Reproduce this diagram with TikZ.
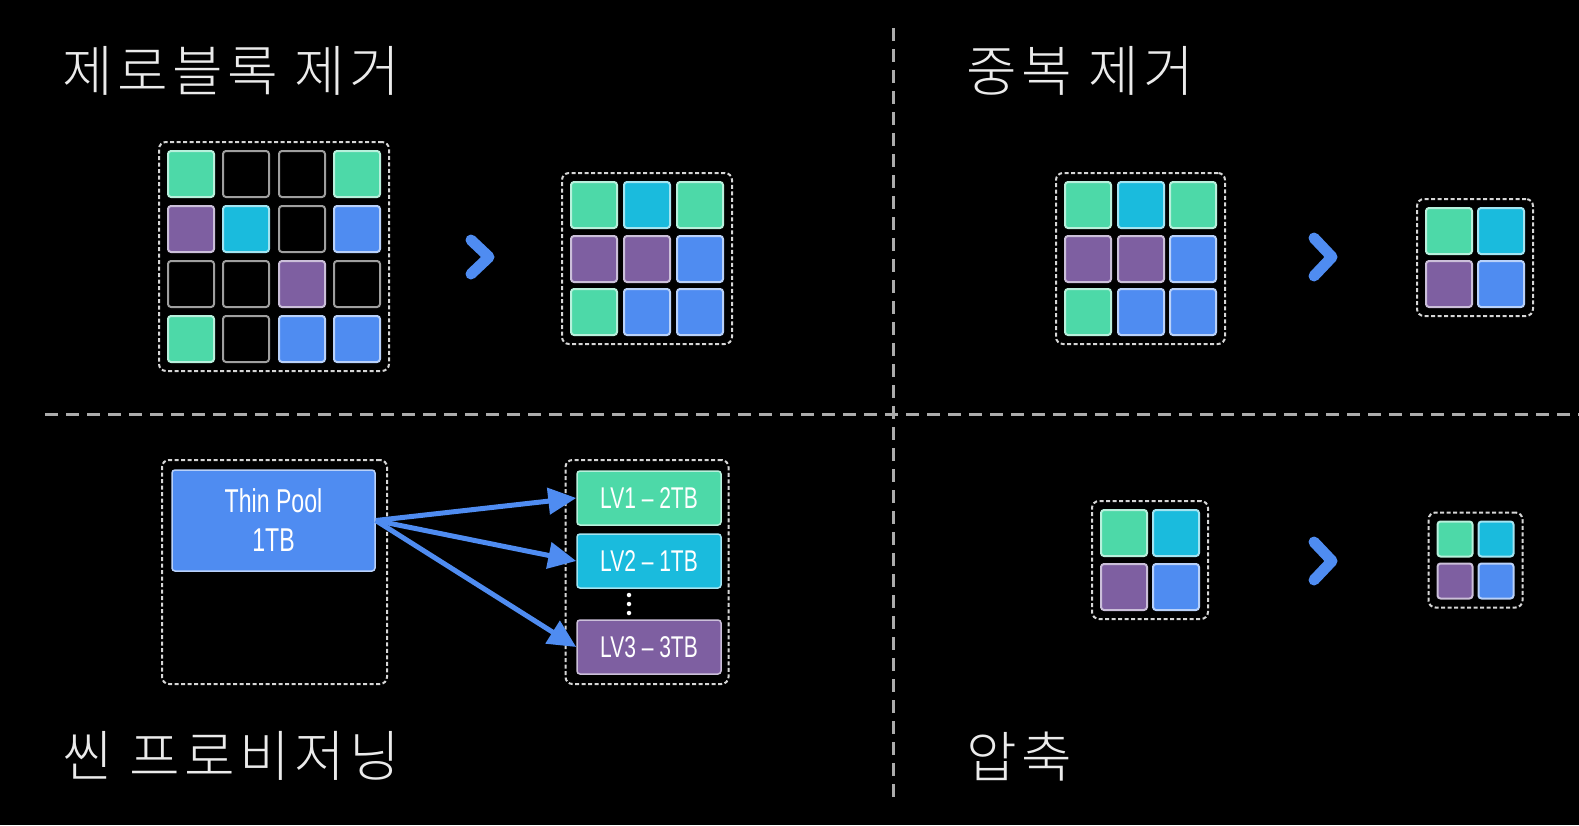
\documentclass[tikz,border=0pt]{standalone}
\usepackage{fontspec}
\usepackage{tikz}
\usetikzlibrary{fit,arrows.meta}
\IfFontExistsTF{Noto Sans CJK KR Light}
	{\newfontfamily\krfont[LetterSpace=8]{Noto Sans CJK KR Light}}
	{\newfontfamily\krfont[LetterSpace=8]{Noto Sans CJK KR}}
\newfontfamily\condfont[FakeStretch=0.7]{Liberation Sans}
\definecolor{mint}{HTML}{4DD9A8}
\definecolor{sky}{HTML}{1ABBDD}
\definecolor{grape}{HTML}{7E5FA1}
\definecolor{azure}{HTML}{4F8CF1}
\definecolor{rim}{HTML}{D6D6D6}
\tikzstyle{block} = [rectangle, rounded corners=3pt, minimum size=46pt, inner sep=0pt, line width=2pt]
\tikzstyle{gb} = [block, fill=mint, draw=mint!40!white]
\tikzstyle{cb} = [block, fill=sky, draw=sky!40!white]
\tikzstyle{pb} = [block, fill=grape, draw=grape!40!white]
\tikzstyle{bb} = [block, fill=azure, draw=azure!40!white]
\tikzstyle{eb} = [block, fill=black, draw=gray!75]
\tikzstyle{tiny} = [minimum size=35pt]
\tikzstyle{group} = [draw=rim, line width=2pt, dash pattern=on 4pt off 2.5pt, rounded corners=7pt, inner sep=8pt]
\tikzstyle{divider} = [draw=gray!65!white, line width=3pt, dash pattern=on 13pt off 8pt]
\tikzstyle{chevron} = [draw=azure, line width=11pt, line cap=round, line join=round]
\tikzstyle{title} = [anchor=base west, inner sep=0pt, text=white!92!black, font=\krfont\fontsize{55}{60}\selectfont]
\tikzstyle{volume} = [rectangle, rounded corners=3pt, minimum width=144pt, minimum height=54pt, line width=1.5pt, text=white, font=\condfont\fontsize{30}{32}\selectfont]
\tikzstyle{link} = [draw=azure, line width=5pt, -{Triangle[length=28pt, width=26pt]}]
\tikzstyle{dot} = [circle, fill=white, minimum size=4.5pt, inner sep=0pt]

\begin{document}
\begin{tikzpicture}[x=1pt, y=-1pt]
	\fill[black] (0,0) rectangle (1579,825);
	\useasboundingbox (0,0) rectangle (1579,825);

	\coordinate (vtop) at (893,28);
	\coordinate (vbot) at (893,802);
	\coordinate (hleft) at (45,414);
	\coordinate (hright) at (1579,414);
	\draw[divider] (vtop) -- (vbot);
	\draw[divider] (hleft) -- (hright);

	\node[title] (t1) at (62,91) {제로블록 제거};
	\node[title] (t2) at (966,91) {중복 제거};
	\node[title] (t3) at (62,776) {씬 프로비저닝};
	\node[title] (t4) at (966,777) {압축};

	\node[gb] (z11) at (191,174) {};
	\node[eb] (z12) at (246,174) {};
	\node[eb] (z13) at (302,174) {};
	\node[gb] (z14) at (357,174) {};
	\node[pb] (z21) at (191,229) {};
	\node[cb] (z22) at (246,229) {};
	\node[eb] (z23) at (302,229) {};
	\node[bb] (z24) at (357,229) {};
	\node[eb] (z31) at (191,284) {};
	\node[eb] (z32) at (246,284) {};
	\node[pb] (z33) at (302,284) {};
	\node[eb] (z34) at (357,284) {};
	\node[gb] (z41) at (191,339) {};
	\node[eb] (z42) at (246,339) {};
	\node[bb] (z43) at (302,339) {};
	\node[bb] (z44) at (357,339) {};
	\node[group, fit=(z11)(z44)] (zin) {};
	\draw[chevron] (471,240) -- (489,257) -- (471,274);

	\node[gb] (r11) at (594,205) {};
	\node[cb] (r12) at (647,205) {};
	\node[gb] (r13) at (700,205) {};
	\node[pb] (r21) at (594,259) {};
	\node[pb] (r22) at (647,259) {};
	\node[bb] (r23) at (700,259) {};
	\node[gb] (r31) at (594,312) {};
	\node[bb] (r32) at (647,312) {};
	\node[bb] (r33) at (700,312) {};
	\node[group, fit=(r11)(r33)] (zout) {};

	\node[gb] (d11) at (1088,205) {};
	\node[cb] (d12) at (1141,205) {};
	\node[gb] (d13) at (1193,205) {};
	\node[pb] (d21) at (1088,259) {};
	\node[pb] (d22) at (1141,259) {};
	\node[bb] (d23) at (1193,259) {};
	\node[gb] (d31) at (1088,312) {};
	\node[bb] (d32) at (1141,312) {};
	\node[bb] (d33) at (1193,312) {};
	\node[group, fit=(d11)(d33)] (din) {};
	\draw[chevron] (1314,238) -- (1332,257) -- (1314,276);

	\node[gb] (e11) at (1449,231) {};
	\node[cb] (e12) at (1501,231) {};
	\node[pb] (e21) at (1449,284) {};
	\node[bb] (e22) at (1501,284) {};
	\node[group, fit=(e11)(e22)] (dout) {};

	\node[gb] (c11) at (1124,533) {};
	\node[cb] (c12) at (1176,533) {};
	\node[pb] (c21) at (1124,587) {};
	\node[bb] (c22) at (1176,587) {};
	\node[group, fit=(c11)(c22)] (cin) {};
	\draw[chevron] (1314,542) -- (1332,561) -- (1314,580);

	\node[gb, tiny] (s11) at (1455,539) {};
	\node[cb, tiny] (s12) at (1496,539) {};
	\node[pb, tiny] (s21) at (1455,581) {};
	\node[bb, tiny] (s22) at (1496,581) {};
	\node[group, fit=(s11)(s22)] (cout) {};

	\node[volume, fill=azure, draw=azure!40!white, minimum width=203pt, minimum height=101pt, align=center, font=\condfont\fontsize{33}{39}\selectfont] (pool) at (273.5,520.5) {Thin Pool\\1TB};
	\node[group, fit=(pool), inner sep=0pt, minimum width=225pt, minimum height=224pt, anchor=north west] (poolbox) at (161,459) {};

	\node[volume, fill=mint, draw=mint!40!white] (lv1) at (649,498) {LV1 – 2TB};
	\node[volume, fill=sky, draw=sky!40!white] (lv2) at (649,561) {LV2 – 1TB};
	\node[volume, fill=grape, draw=grape!40!white] (lv3) at (649,647) {LV3 – 3TB};
	\node[dot] (dot1) at (629,595) {};
	\node[dot] (dot2) at (629,604) {};
	\node[dot] (dot3) at (629,613) {};
	\node[group, fit=(lv1)(lv3), inner sep=0pt, minimum width=163pt, minimum height=224pt] (lvbox) at (647,572) {};

	\draw[link] (pool.east) -- (lv1.west);
	\draw[link] (pool.east) -- (lv2.west);
	\draw[link] (pool.east) -- (lv3.west);
\end{tikzpicture}
\end{document}
